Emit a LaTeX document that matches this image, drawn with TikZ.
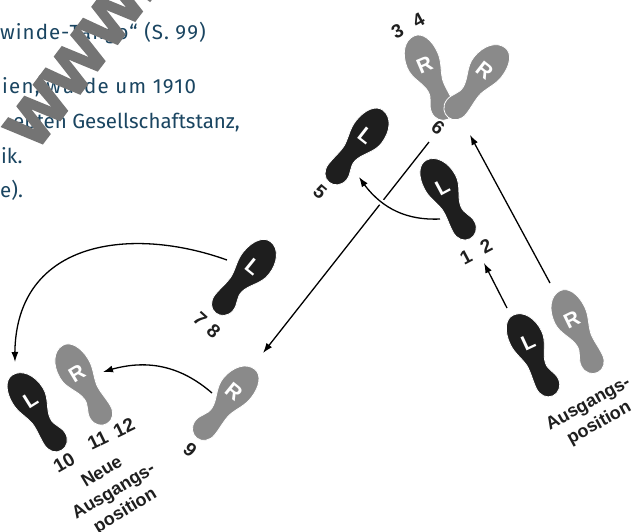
\documentclass[tikz,border=0pt]{standalone}
\usepackage{fontspec}
\setmainfont{Liberation Sans}
\newfontfamily\bodyfont{Fira Sans}
\newfontfamily\labfont{Liberation Sans}
\newfontfamily\wmfont{Liberation Sans}[BoldFeatures={FakeBold=2.5}]
\usetikzlibrary{arrows.meta,bending}
\definecolor{ink}{HTML}{1A4561}
\definecolor{footblack}{HTML}{1E1E1E}
\definecolor{footgrey}{HTML}{8A8A8A}
\definecolor{wm}{HTML}{747474}
\tikzset{
  bodytext/.style={anchor=base west, inner sep=0pt, text=ink, font=\bodyfont\fontsize{20.5}{20.5}\selectfont},
  steplabel/.style={inner sep=0pt, font=\labfont\bfseries\fontsize{19}{19}\selectfont, text=black!88},
  poslabel/.style={inner sep=0pt, align=center, font=\labfont\bfseries\fontsize{18}{22.5}\selectfont, text=black!88},
  move/.style={line width=1.3pt, -{Latex[length=10pt,width=7pt]}},
  pics/foot/.style n args={3}{code={
    \begin{scope}[xscale=#3]
      \path[fill=#1, draw=white, line width=0.8pt]
        (-2,45) .. controls (9,45) and (17,33) .. (17,18)
        .. controls (17,6) and (8,-2) .. (7,-12)
        .. controls (6,-20) and (12,-24) .. (12,-32)
        .. controls (12,-40) and (6,-45) .. (0,-45)
        .. controls (-7,-45) and (-12,-39) .. (-12,-31)
        .. controls (-12,-22) and (-10,-14) .. (-11,-6)
        .. controls (-13,4) and (-17,10) .. (-17,20)
        .. controls (-17,34) and (-11,45) .. (-2,45) -- cycle;
    \end{scope}
    \node[inner sep=0pt, text=white, transform shape, font=\labfont\bfseries\fontsize{21}{21}\selectfont] (-letter) at (0,14) {#2};
  }},
}
\begin{document}
\begin{tikzpicture}[x=1pt,y=1pt]
\useasboundingbox (0,-531) rectangle (634,0);
\fill[white] (0,-531) rectangle (634,0);

% body text
\node[bodytext] (t1) at (0,-39) {\addfontfeature{LetterSpace=5}winde-Tango“ (S. 99)};
\node[bodytext] (t2) at (2,-93) {\addfontfeature{LetterSpace=6}ien, wurde um 1910};
\node[bodytext] (t3) at (13,-128) {ebten Gesellschaftstanz,};
\node[bodytext] (t4) at (1,-163) {ik.};
\node[bodytext] (t5) at (0,-197) {e).};

% arrow end points
\coordinate (a1s) at (507,-308); \coordinate (a1e) at (484,-263);
\coordinate (a2s) at (550,-283); \coordinate (a2e) at (470,-135);
\coordinate (a3s) at (440,-219); \coordinate (a3e) at (359,-177);
\coordinate (l1s) at (429,-142); \coordinate (l1e) at (263,-353);
\coordinate (a4s) at (227,-260); \coordinate (a4e) at (15,-362);
\coordinate (a5s) at (212,-393); \coordinate (a5e) at (103,-372);

\draw[move] (a1s) -- (a1e);
\draw[move] (a2s) -- (a2e);
\draw[move] (l1s) -- (l1e);
\draw[move, preaction={draw=white, line width=6pt, -}] (a3s) to[bend left=30] (a3e);
\draw[move] (a4s) .. controls (130,-225) and (10,-240) .. (a4e);
\draw[move] (a5s) to[bend right=30] (a5e);

% feet
\pic[rotate=25] (f1) at (534,-355) {foot={footblack}{L}{1}};
\pic[rotate=26] (f2) at (578,-332) {foot={footgrey}{R}{-1}};
\pic[rotate=28] (f3) at (449,-199) {foot={footblack}{L}{1}};
\pic[rotate=23] (f4) at (430,-78) {foot={footgrey}{R}{-1}};
\pic[rotate=-38] (f5) at (476,-82) {foot={footgrey}{R}{-1}};
\pic[rotate=-38] (f6) at (357,-147) {foot={footblack}{L}{1}};
\pic[rotate=-39] (f7) at (244,-278) {foot={footblack}{L}{1}};
\pic[rotate=-39] (f8) at (225,-403) {foot={footgrey}{R}{-1}};
\pic[rotate=32] (f9) at (38,-412) {foot={footblack}{L}{1}};
\pic[rotate=31] (f10) at (84,-385) {foot={footgrey}{R}{-1}};

% step labels
\node[steplabel, rotate=28] (n12) at (476,-252) {1\hspace{0.65em}2};
\node[steplabel, rotate=28] (n34) at (408,-26) {3\hspace{0.7em}4};
\node[steplabel, rotate=-40] (n5) at (320,-192) {5};
\node[steplabel, rotate=-38] (n6) at (438,-128) {6};
\node[steplabel, rotate=-42] (n78) at (207,-325) {7\hspace{0.4em}8};
\node[steplabel, rotate=-40] (n9) at (190,-450) {9};
\node[steplabel, rotate=30] (n10) at (64,-463) {10};
\node[steplabel, rotate=26] (n1112) at (111,-434) {11\hspace{0.45em}12};
\node[poslabel, rotate=31] (neu) at (114,-492) {Neue\\Ausgangs-\\position};
\node[poslabel, rotate=29] (start) at (594,-414) {Ausgangs-\\position};

% watermark
\node[anchor=base west, inner sep=0pt, rotate=53, text=wm, font=\wmfont\bfseries\fontsize{80}{80}\selectfont] (wmark) at (36,-152) {www.};
\end{tikzpicture}
\end{document}
